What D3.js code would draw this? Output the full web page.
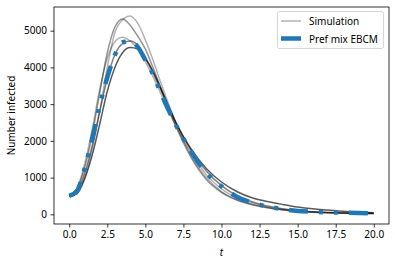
<!DOCTYPE html>
<html>
<head>
<meta charset="utf-8">
<script src="https://cdn.jsdelivr.net/npm/d3@7"></script>
<style>
body { margin: 0; background: #fff; }
svg text { font-family: "Noto Sans", "Open Sans", sans-serif; }
</style>
</head>
<body>
<svg id="chart" width="395" height="266"></svg>
<script>
// time points (shared by all curves)
var times = [0, 0.5, 1, 1.5, 2, 2.5, 3, 3.5, 4, 4.5, 5, 5.5, 6, 7, 8, 9, 10, 11, 12, 13, 14, 15, 16, 17, 18, 19, 20];

// simulation runs
var sim1 = [500, 600, 1000, 1750, 2800, 4000, 4950, 5300, 5400, 5200, 4750, 4200, 3600, 2500, 1600, 1000, 620, 400, 270, 185, 125, 85, 60, 45, 35, 28, 22];
var sim2 = [500, 680, 1250, 2150, 3300, 4400, 5100, 5320, 5150, 4850, 4500, 4000, 3450, 2400, 1550, 950, 600, 390, 260, 175, 120, 82, 58, 42, 32, 26, 20];
var sim3 = [500, 700, 1350, 2300, 3400, 4250, 4700, 4820, 4720, 4500, 4150, 3750, 3300, 2400, 1680, 1080, 690, 450, 300, 200, 135, 92, 64, 47, 37, 29, 24];
var sim4 = [500, 620, 1100, 1850, 2800, 3700, 4350, 4650, 4720, 4600, 4250, 3850, 3400, 2500, 1750, 1180, 780, 510, 340, 225, 150, 100, 70, 50, 38, 30, 25];
var sim5 = [500, 560, 950, 1600, 2450, 3350, 4000, 4400, 4540, 4500, 4250, 3900, 3450, 2500, 1780, 1250, 880, 620, 450, 350, 270, 200, 150, 115, 80, 60, 45];
var simulations = [sim1, sim2, sim3, sim4, sim5];
var simOpacity = [0.3, 0.42, 0.3, 0.5, 0.65];

// Pref mix EBCM prediction
var ebcm = [500, 630, 1220, 2040, 2950, 3730, 4340, 4680, 4720, 4560, 4200, 3820, 3320, 2440, 1710, 1130, 760, 480, 320, 215, 140, 92, 70, 54, 42, 35, 30];

var xTicks = [0, 2.5, 5, 7.5, 10, 12.5, 15, 17.5, 20];
var yTicks = [0, 1000, 2000, 3000, 4000, 5000];
var legendLabels = ["Simulation", "Pref mix EBCM"];

var mLeft = 54, mRight = 389, mTop = 7, mBottom = 224;

var svg = d3.select("#chart");

var x = d3.scaleLinear().domain([-1, 21]).range([mLeft, mRight]);
var y = d3.scaleLinear().domain([-264, 5645]).range([mBottom, mTop]);

var line = d3.line()
	.x(function(d, i) { return x(times[i]); })
	.y(function(d) { return y(d); })
	.curve(d3.curveMonotoneX);

// simulations
svg.selectAll(".sim").data(simulations).enter()
	.append("path")
	.attr("class", "sim")
	.attr("d", line)
	.attr("fill", "none")
	.attr("stroke", "black")
	.attr("stroke-opacity", function(d, i) { return simOpacity[i]; })
	.attr("stroke-width", 1.5);

// EBCM
svg.append("path")
	.attr("d", line(ebcm))
	.attr("fill", "none")
	.attr("stroke", "#1f77b4")
	.attr("stroke-width", 4.5)
	.attr("stroke-dasharray", "19,11,4,11,4,11");

// axes
var xAxis = d3.axisBottom(x).tickValues(xTicks).tickFormat(d3.format(".1f")).tickSize(3.5).tickPadding(3.5);
var yAxis = d3.axisLeft(y).tickValues(yTicks).tickFormat(d3.format("d")).tickSize(3.5).tickPadding(3.5);

svg.append("g").attr("transform", "translate(0," + mBottom + ")").call(xAxis);
svg.append("g").attr("transform", "translate(" + mLeft + ",0)").call(yAxis);

svg.selectAll(".domain").remove();
svg.selectAll(".tick line").attr("stroke", "black").attr("stroke-width", 0.8);
svg.selectAll(".tick text").attr("font-size", 10).attr("fill", "black")
	.attr("font-family", "Noto Sans, Open Sans, sans-serif");

// frame
svg.append("rect")
	.attr("x", mLeft).attr("y", mTop)
	.attr("width", mRight - mLeft).attr("height", mBottom - mTop)
	.attr("fill", "none").attr("stroke", "black").attr("stroke-width", 0.8);

// labels
svg.append("text")
	.attr("transform", "translate(15," + ((mTop + mBottom) / 2) + ") rotate(-90)")
	.attr("text-anchor", "middle")
	.attr("font-size", 10)
	.text("Number infected");

svg.append("text")
	.attr("x", (mLeft + mRight) / 2).attr("y", 256)
	.attr("text-anchor", "middle")
	.attr("font-size", 10)
	.attr("font-style", "italic")
	.text("t");

// legend
var lg = svg.append("g");
lg.append("rect")
	.attr("x", 277.5).attr("y", 11.5).attr("width", 106).attr("height", 37)
	.attr("rx", 2).attr("fill", "white").attr("fill-opacity", 0.8)
	.attr("stroke", "#cccccc").attr("stroke-width", 0.8);

lg.append("line")
	.attr("x1", 281).attr("x2", 301).attr("y1", 21).attr("y2", 21)
	.attr("stroke", "black").attr("stroke-opacity", 0.3).attr("stroke-width", 1.5);
lg.append("line")
	.attr("x1", 281).attr("x2", 301).attr("y1", 38.5).attr("y2", 38.5)
	.attr("stroke", "#1f77b4").attr("stroke-width", 4.5);

lg.selectAll(".lt").data(legendLabels).enter()
	.append("text")
	.attr("x", 309)
	.attr("y", function(d, i) { return 25 + i * 17.5; })
	.attr("font-size", 10)
	.text(function(d) { return d; });
</script>
</body>
</html>
